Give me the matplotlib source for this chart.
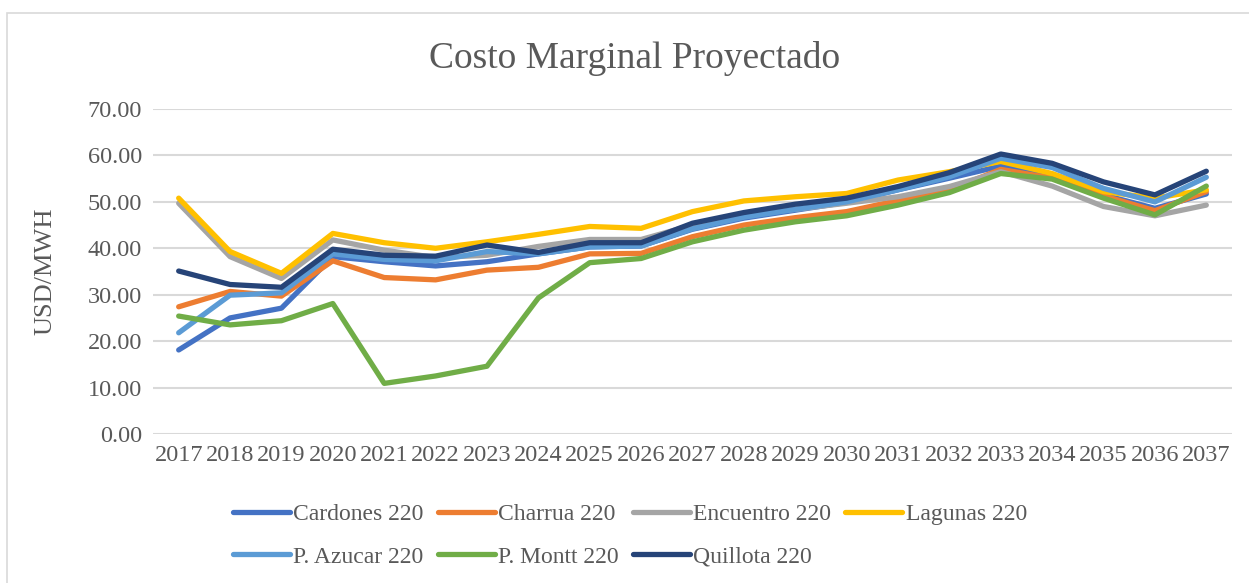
import matplotlib.pyplot as plt
from matplotlib.patches import Rectangle

# Data
years = [str(y) for y in range(2017, 2038)]

cardones = [18.1, 25.0, 27.1, 38.2, 37.1, 36.2, 37.1, 38.8, 40.3, 40.5, 44.1, 46.5, 48.2, 49.9, 52.6, 55.1,
            57.7, 55.6, 51.5, 48.6, 51.7]
charrua = [27.4, 30.7, 29.7, 37.3, 33.7, 33.2, 35.3, 35.9, 38.8, 38.9, 42.5, 45.0, 46.6, 47.9, 50.3, 52.6,
           57.0, 55.1, 51.3, 48.1, 52.2]
encuentro = [49.7, 38.2, 33.5, 41.8, 39.6, 38.0, 38.5, 40.4, 41.9, 41.9, 45.0, 47.2, 48.4, 49.7, 51.1, 53.3,
             56.5, 53.4, 49.0, 47.0, 49.3]
lagunas = [50.8, 39.3, 34.6, 43.2, 41.2, 40.0, 41.4, 43.0, 44.7, 44.3, 47.9, 50.2, 51.1, 51.8, 54.7, 56.5,
           58.7, 56.1, 52.2, 50.8, 52.6]
p_azucar = [21.8, 29.9, 30.4, 38.8, 37.6, 37.3, 39.3, 38.8, 40.3, 40.5, 44.2, 46.7, 48.4, 50.0, 52.6, 55.4,
            59.4, 57.4, 52.9, 50.0, 55.3]
p_montt = [25.4, 23.5, 24.4, 28.1, 10.9, 12.5, 14.6, 29.3, 36.9, 37.8, 41.4, 43.9, 45.7, 47.0, 49.3, 52.0,
           56.1, 54.9, 50.8, 47.2, 53.4]
quillota = [35.1, 32.2, 31.6, 39.8, 38.5, 38.3, 40.7, 39.1, 41.2, 41.2, 45.4, 47.7, 49.5, 50.8, 53.3, 56.3,
            60.3, 58.3, 54.3, 51.5, 56.6]

series = [
    ("Cardones 220", cardones, "#4472C4"),
    ("Charrua 220", charrua, "#ED7D31"),
    ("Encuentro 220", encuentro, "#A5A5A5"),
    ("Lagunas 220", lagunas, "#FFC000"),
    ("P. Azucar 220", p_azucar, "#5B9BD5"),
    ("P. Montt 220", p_montt, "#70AD47"),
    ("Quillota 220", quillota, "#264478"),
]

plt.rcParams['font.family'] = ['Liberation Serif', 'DejaVu Serif']
text_color = '#595959'

W, H = 1249, 583
fig = plt.figure(figsize=(W / 100, H / 100), dpi=100)

# chart border
fig.patches.append(Rectangle((7 / W, -0.05), 1.1, 1 - 13 / H + 0.05, transform=fig.transFigure,
                             fill=False, edgecolor='#D9D9D9', linewidth=1.2))

ax = fig.add_axes([153 / W, (H - 434) / H, (1232 - 153) / W, (434 - 109) / H])

x = list(range(len(years)))
for name, vals, color in series:
    ax.plot(x, vals, color=color, linewidth=3.8, label=name, solid_capstyle='round')

ax.set_xlim(-0.5, len(years) - 0.5)
ax.set_ylim(0, 70)
ax.set_yticks(range(0, 71, 10))
ax.set_yticklabels([f"{v:.2f}" for v in range(0, 71, 10)])
ax.set_xticks(x)
ax.set_xticklabels(years)
ax.tick_params(axis='both', length=0, labelsize=17.5, colors=text_color)
ax.tick_params(axis='y', pad=8)
ax.tick_params(axis='x', pad=8)
ax.grid(axis='y', color='#D9D9D9', linewidth=1.5)
ax.set_axisbelow(True)
for s in ax.spines.values():
    s.set_visible(False)

ax.set_ylabel("USD/MWH", fontsize=19, color=text_color, labelpad=22)
fig.text(0.5 + 10 / W, 1 - 58 / H, "Costo Marginal Proyectado", fontsize=27, color=text_color,
         ha='center', va='center')

# legend filled row by row, as in the original
handles, labels = ax.get_legend_handles_labels()
order = [0, 4, 1, 5, 2, 6, 3]
fig.legend([handles[i] for i in order], [labels[i] for i in order],
           loc='upper center', bbox_to_anchor=(630 / W, 1 - 482 / H), ncol=4, frameon=False,
           fontsize=17, handlelength=2.4, handletextpad=0.15, columnspacing=0.6,
           labelspacing=0.9, labelcolor=text_color)

fig.savefig("out.png", dpi=100)
